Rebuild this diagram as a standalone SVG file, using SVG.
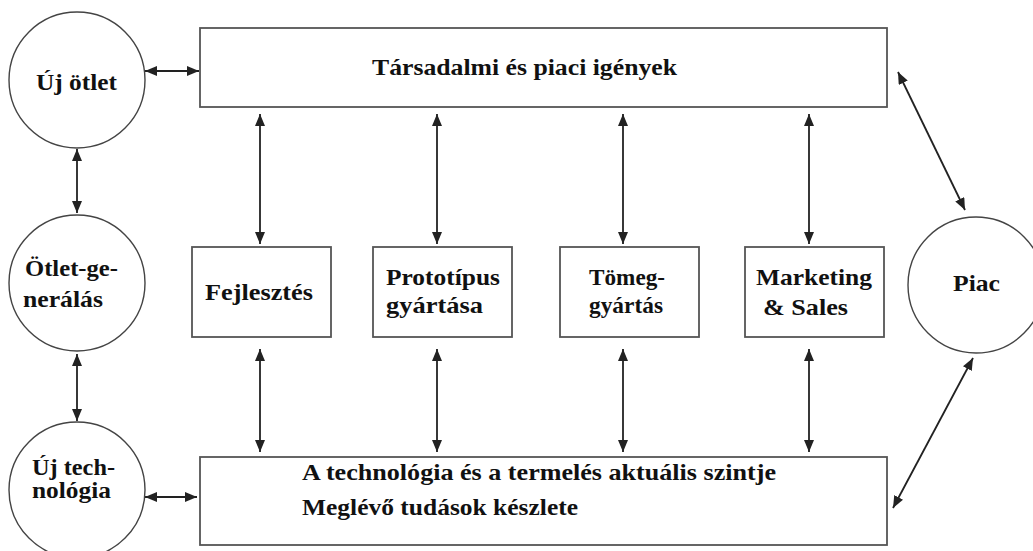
<svg xmlns="http://www.w3.org/2000/svg" width="1033" height="551" viewBox="0 0 1033 551" font-family="'Liberation Serif', 'DejaVu Serif', serif" font-weight="bold" font-size="23">
<style>
.box{fill:#fff;stroke:#555;stroke-width:1.8}
.circ{fill:#fff;stroke:#444;stroke-width:1.4}
text{font-family:'Liberation Serif','DejaVu Serif',serif;font-weight:bold;font-size:23px;fill:#111}
.c{stroke:#222;stroke-width:1.8;fill:none;marker-start:url(#ah);marker-end:url(#ah)}
</style>
<defs>
<marker id="ah" viewBox="0 0 12 10" refX="12" refY="5" markerWidth="12" markerHeight="10" markerUnits="userSpaceOnUse" orient="auto-start-reverse">
<path d="M0,0 L12,5 L0,10 z" fill="#222"/>
</marker>
</defs>
<rect width="1033" height="551" fill="#fff"/>
<g id="connectors">
<line class="c" x1="145" y1="71" x2="199" y2="71"/>
<line class="c" x1="145" y1="497" x2="197" y2="497"/>
<line class="c" x1="77" y1="149" x2="77" y2="213"/>
<line class="c" x1="77" y1="354" x2="77" y2="421"/>
<line class="c" x1="260" y1="114" x2="260" y2="244"/>
<line class="c" x1="437" y1="114" x2="437" y2="244"/>
<line class="c" x1="623" y1="114" x2="623" y2="244"/>
<line class="c" x1="809" y1="114" x2="809" y2="244"/>
<line class="c" x1="260" y1="349" x2="260" y2="452"/>
<line class="c" x1="437" y1="349" x2="437" y2="452"/>
<line class="c" x1="623" y1="349" x2="623" y2="452"/>
<line class="c" x1="809" y1="349" x2="809" y2="452"/>
<line class="c" x1="898" y1="72" x2="965" y2="210"/>
<line class="c" x1="893" y1="508" x2="973" y2="358"/>
</g>
<g id="tarsadalmi">
<rect class="box" x="200" y="28" width="687" height="79"/>
<text x="372" y="75" textLength="305" lengthAdjust="spacingAndGlyphs">Társadalmi és piaci igények</text>
</g>
<g id="technologia">
<rect class="box" x="200" y="457" width="687" height="88"/>
<text x="302" y="480" textLength="474" lengthAdjust="spacingAndGlyphs">A technológia és a termelés aktuális szintje</text>
<text x="302" y="515" textLength="276" lengthAdjust="spacingAndGlyphs">Meglévő tudások készlete</text>
</g>
<g id="uj-otlet">
<circle class="circ" cx="77" cy="80" r="68"/>
<text x="36" y="90" textLength="81" lengthAdjust="spacingAndGlyphs">Új ötlet</text>
</g>
<g id="otlet-generalas">
<circle class="circ" cx="77" cy="283" r="68"/>
<text x="25" y="276" textLength="93" lengthAdjust="spacingAndGlyphs">Ötlet-ge-</text>
<text x="23" y="307" textLength="80" lengthAdjust="spacingAndGlyphs">nerálás</text>
</g>
<g id="uj-technologia">
<circle class="circ" cx="77" cy="490" r="68"/>
<text x="32" y="475" textLength="83" lengthAdjust="spacingAndGlyphs">Új tech-</text>
<text x="32" y="498" textLength="79" lengthAdjust="spacingAndGlyphs">nológia</text>
</g>
<g id="fejlesztes">
<rect class="box" x="192" y="247" width="139" height="90"/>
<text x="205" y="300" textLength="108" lengthAdjust="spacingAndGlyphs">Fejlesztés</text>
</g>
<g id="prototipus">
<rect class="box" x="373" y="247" width="139" height="90"/>
<text x="386" y="285" textLength="114" lengthAdjust="spacingAndGlyphs">Prototípus</text>
<text x="386" y="313" textLength="97" lengthAdjust="spacingAndGlyphs">gyártása</text>
</g>
<g id="tomeg">
<rect class="box" x="560" y="247" width="139" height="90"/>
<text x="589" y="285" textLength="76" lengthAdjust="spacingAndGlyphs">Tömeg-</text>
<text x="589" y="313" textLength="74" lengthAdjust="spacingAndGlyphs">gyártás</text>
</g>
<g id="marketing">
<rect class="box" x="745" y="247" width="139" height="90"/>
<text x="756" y="285" textLength="116" lengthAdjust="spacingAndGlyphs">Marketing</text>
<text x="763" y="315" textLength="85" lengthAdjust="spacingAndGlyphs">&amp; Sales</text>
</g>
<g id="piac">
<circle class="circ" cx="976" cy="285" r="68"/>
<text x="953" y="291" textLength="47" lengthAdjust="spacingAndGlyphs">Piac</text>
</g>
</svg>
